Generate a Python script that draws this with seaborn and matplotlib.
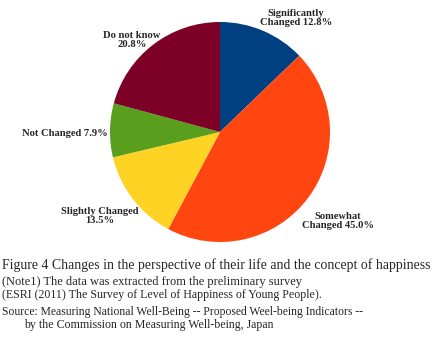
import matplotlib
matplotlib.use("Agg")
import matplotlib.pyplot as plt
import seaborn as sns

categories = ["Significantly Changed", "Somewhat Changed", "Slightly Changed", "Not Changed", "Do not know"]
values = [12.8, 45.0, 13.5, 7.9, 20.8]
label_texts = ["Significantly\nChanged 12.8%", "Somewhat\nChanged 45.0%", "Slightly Changed\n13.5%",
               "Not Changed 7.9%", "Do not know\n20.8%"]
colors = ["#004080", "#FF4510", "#FFD324", "#5A9E1E", "#7D0026"]

sns.set_style("white")
plt.rcParams['font.family'] = ['Liberation Serif', 'DejaVu Serif']

W, H = 433, 343
fig = plt.figure(figsize=(W / 100, H / 100), dpi=100)
cx, cy, r = 220, 132, 110
ax = fig.add_axes([(cx - r) / W, (H - cy - r) / H, 2 * r / W, 2 * r / H])
ax.pie(values, colors=sns.color_palette(colors), startangle=90, counterclock=False,
       radius=1, center=(0, 0), wedgeprops=dict(linewidth=0))
ax.set_xlim(-1, 1)
ax.set_ylim(-1, 1)
ax.set_aspect("equal")
ax.axis("off")

# label positions in pixels (center of text)
label_px = [(296, 18), (338, 221), (100, 216), (65, 133), (132, 40)]
for txt, (px, py) in zip(label_texts, label_px):
    ax.text((px - cx) / r, (cy - py) / r, txt, ha="center", va="center",
            fontsize=7.6, fontweight="bold", linespacing=1.1, clip_on=False)

def ftext(px, py, s, size):
    fig.text(px / W, 1 - py / H, s, ha="left", va="center", fontsize=size)

ftext(2, 265, "Figure 4 Changes in the perspective of their life and the concept of happiness", 9.9)
ftext(2, 282, "(Note1) The data was extracted from the preliminary survey", 9.0)
ftext(2, 295, "(ESRI (2011) The Survey of Level of Happiness of Young People).", 8.6)
ftext(2, 312, "Source: Measuring National Well-Being -- Proposed Weel-being Indicators --", 8.4)
ftext(24, 325, "by the Commission on Measuring Well-being, Japan", 8.6)

fig.savefig("out.png", dpi=100)
